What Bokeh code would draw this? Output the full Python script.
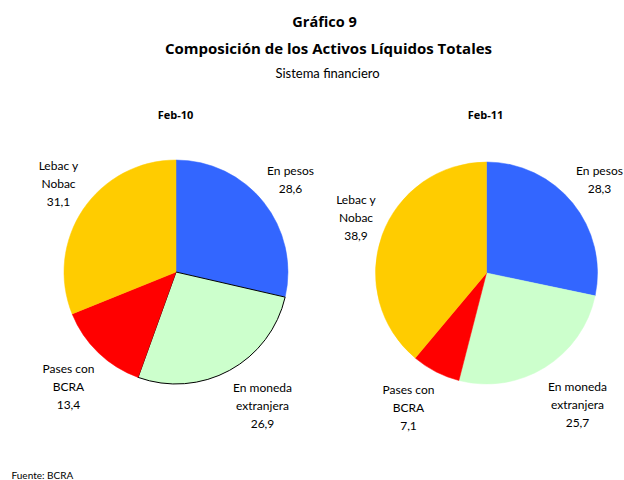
import math
from bokeh.plotting import figure
from bokeh.models import Range1d
from bokeh.core.properties import value
from bokeh.embed import file_html
from bokeh.resources import INLINE

# ---- data ----
title_main = "Gráfico 9"
title_sub = "Composición de los Activos Líquidos Totales"
title_sub2 = "Sistema financiero"
source_note = "Fuente: BCRA"
periods = ["Feb-10", "Feb-11"]
categories = ["En pesos", "En moneda extranjera", "Pases con BCRA", "Lebac y Nobac"]
cat_lines = [["En pesos"], ["En moneda", "extranjera"], ["Pases con", "BCRA"], ["Lebac y", "Nobac"]]
values_feb10 = [28.6, 26.9, 13.4, 31.1]
values_feb11 = [28.3, 25.7, 7.1, 38.9]
colors = ["#3366FF", "#CCFFCC", "#FF0000", "#FFCC00"]

W, H = 624, 480
FONT = "Lato"
FONT_B = "Open Sans"

def sx(x):
    return x

def sy(y):
    return H - y

p = figure(width=W, height=H, output_backend="svg", toolbar_location=None,
           x_range=Range1d(0, W), y_range=Range1d(0, H), min_border=0)
p.axis.visible = False
p.grid.visible = False
p.outline_line_color = None
p.background_fill_color = "white"

def txt(x, y, s, size, bold=False, align="center", font=FONT):
    p.text(x=[sx(x)], y=[sy(y)], text=[s], text_font=value(font),
           text_font_size=f"{size}px", text_font_style="bold" if bold else "normal",
           text_align=align, text_baseline="middle", text_color="black")

txt(324, 21, title_main, 14.5, bold=True, font=FONT_B)
txt(328, 47, title_sub, 15, bold=True, font=FONT_B)
txt(327, 72, title_sub2, 13)
txt(11, 474, source_note, 10, align="left")

# layout: pie centers/radii and label anchor positions (screen px)
pies = [
    dict(vals=values_feb10, cx=175.5, cy=271.5, r=112, title_x=175, outline=[None, "black", None, None],
         labels=[(290, 170), (262, 387), (68, 368), (58, 165)]),
    dict(vals=values_feb11, cx=486, cy=272.5, r=111, title_x=485, outline=[None, None, None, None],
         labels=[(599, 170), (577, 386), (408, 389), (355.5, 199)]),
]

LINE = 18
for period, pie in zip(periods, pies):
    txt(pie["title_x"], 114, period, 11, bold=True, font=FONT_B)
    total = sum(pie["vals"])
    cum = 0.0
    for i, v in enumerate(pie["vals"]):
        a0 = math.pi / 2 - 2 * math.pi * cum / total
        cum += v
        a1 = math.pi / 2 - 2 * math.pi * cum / total
        oc = pie["outline"][i]
        p.wedge(x=[sx(pie["cx"])], y=[sy(pie["cy"])], radius=pie["r"],
                start_angle=a0, end_angle=a1, direction="clock",
                fill_color=colors[i], line_color=oc if oc else colors[i],
                line_width=1 if oc else 0.5)
    for i, v in enumerate(pie["vals"]):
        lx, ly = pie["labels"][i]
        lines = cat_lines[i] + [f"{v:.1f}".replace(".", ",")]
        for k, s in enumerate(lines):
            txt(lx, ly + k * LINE, s, 12)

open("out.html", "w").write(file_html(p, INLINE))
